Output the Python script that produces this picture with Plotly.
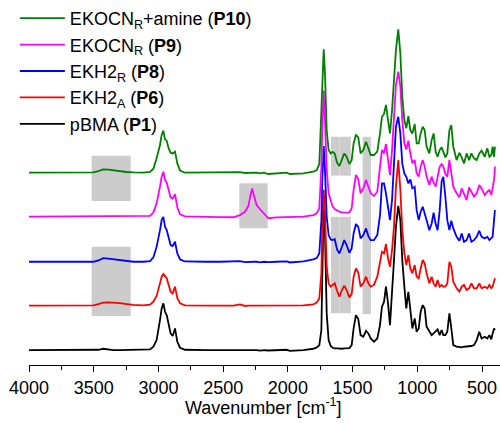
import plotly.graph_objects as go

# ---------------- data ----------------
HIGH_WN = [4000, 3800, 3606, 3554, 3503, 3464, 3426, 3387, 3348, 3297, 3245, 3194, 3117, 3065, 3039,
           3014, 2988, 2975, 2962, 2949, 2936, 2921, 2906, 2890, 2872, 2854, 2833, 2795, 2730, 2627,
           2524, 2421, 2370, 2331, 2305, 2287, 2275, 2262, 2241, 2215, 2184, 2151, 2087, 2009]
FP_WN = [1984, 1880, 1803, 1777, 1757, 1741, 1734, 1723, 1713, 1700, 1685, 1669, 1654, 1638, 1620,
         1602, 1582, 1564, 1546, 1525, 1507, 1492, 1474, 1456, 1438, 1417, 1396, 1378, 1360, 1335,
         1309, 1288, 1273, 1257, 1242, 1226, 1211, 1195, 1180, 1165, 1147, 1131, 1116, 1100, 1085,
         1069, 1054, 1038, 1020, 1005, 989, 974, 958, 943, 928, 907, 889, 874, 858, 843,
         827, 812, 799, 783, 768, 752, 737, 722, 696, 675, 657, 639, 619, 600, 582,
         562, 541, 521, 503, 479, 459, 443, 428, 418, 407, 400]

P1_HIGH = [0, 0, 0, 0, 0, 0.002, 0.009, 0.002, 0, 0, 0, 0, 0, 0.005, 0.023, 0.069, 0.207, 0.287, 0.322,
           0.264, 0.241, 0.184, 0.115, 0.097, 0.149, 0.057, 0.016, 0.002, 0, 0, 0, 0, 0.002, -0.003,
           0, 0, 0, 0, 0, -0.004, 0, -0.003, 0, 0.002]
P1_FP = [-0.005, 0, 0.009, 0.018, 0.034, 0.138, 0.5, 1.05, 0.8, 0.253,
         0.069, 0.028, 0.016, 0.011, 0.011, 0.009, 0.009, 0.011, 0.011, 0.014,
         0.034, 0.149, 0.241, 0.214, 0.103, 0.092, 0.133, 0.115, 0.080, 0.057,
         0.080, 0.172, 0.299, 0.333, 0.437, 0.322, 0.172, 0.368, 0.621, 0.851,
         0.994, 0.897, 0.621, 0.437, 0.287, 0.402, 0.299, 0.149, 0.218, 0.126,
         0.149, 0.264, 0.310, 0.287, 0.161, 0.126, 0.103, 0.115, 0.133, 0.142,
         0.103, 0.138, 0.103, 0.103, 0.126, 0.253, 0.149, 0.034, 0.023, 0.018,
         0.018, 0.023, 0.023, 0.023, 0.028, 0.034, 0.069, 0.126, 0.080, 0.092,
         0.080, 0.103, 0.074, 0.115, 0.149, 0.138]

P6_HIGH = [0, 0, 0, 0, 0.002, 0.011, 0.021, 0.023, 0.023, 0.018, 0.011, 0.005, 0.002, 0.007, 0.028,
           0.067, 0.154, 0.200, 0.218, 0.200, 0.189, 0.143, 0.097, 0.085, 0.131, 0.051, 0.016, 0.002,
           0, 0, 0, 0, 0.009, -0.002, 0, 0, 0, 0, 0, -0.003, 0, -0.002, 0, 0.002]
P6_FP = [-0.002, 0.002, 0.009, 0.021, 0.051, 0.223, 0.545, 0.799, 0.638, 0.269,
         0.154, 0.131, 0.143, 0.154, 0.103, 0.062, 0.108, 0.138, 0.108, 0.057,
         0.080, 0.200, 0.257, 0.228, 0.131, 0.154, 0.200, 0.154, 0.131, 0.143,
         0.200, 0.292, 0.372, 0.361, 0.425, 0.326, 0.269, 0.384, 0.545, 0.821,
         1.005, 0.799, 0.522, 0.361, 0.280, 0.349, 0.257, 0.223, 0.280, 0.200,
         0.189, 0.257, 0.315, 0.292, 0.223, 0.154, 0.200, 0.154, 0.131, 0.177,
         0.131, 0.143, 0.131, 0.131, 0.154, 0.303, 0.269, 0.166, 0.120, 0.097,
         0.131, 0.143, 0.108, 0.120, 0.154, 0.120, 0.120, 0.154, 0.120, 0.131,
         0.120, 0.143, 0.120, 0.131, 0.177, 0.189]

P8_HIGH = [0, 0, 0, 0, 0, 0.009, 0.025, 0.021, 0.016, 0.011, 0.005, 0, 0, 0.005, 0.030, 0.103, 0.218,
           0.287, 0.310, 0.241, 0.218, 0.161, 0.115, 0.108, 0.138, 0.057, 0.016, 0.002, 0, 0, 0, 0,
           0.004, -0.003, 0, 0, 0, 0, 0, -0.004, 0, -0.002, 0, 0.002]
P8_FP = [-0.005, 0.002, 0.016, 0.025, 0.057, 0.287, 0.563, 0.798, 0.632, 0.310,
         0.184, 0.154, 0.149, 0.156, 0.085, 0.057, 0.103, 0.149, 0.115, 0.062,
         0.092, 0.195, 0.260, 0.241, 0.161, 0.184, 0.230, 0.177, 0.149, 0.149,
         0.184, 0.322, 0.540, 0.540, 0.471, 0.368, 0.287, 0.425, 0.701, 0.931,
         1.000, 0.885, 0.678, 0.609, 0.586, 0.540, 0.568, 0.506, 0.517, 0.356,
         0.287, 0.345, 0.379, 0.338, 0.287, 0.218, 0.264, 0.338, 0.260, 0.218,
         0.356, 0.552, 0.586, 0.448, 0.287, 0.218, 0.283, 0.230, 0.172, 0.144,
         0.195, 0.138, 0.149, 0.195, 0.138, 0.149, 0.172, 0.214, 0.172, 0.161,
         0.172, 0.149, 0.161, 0.172, 0.287, 0.356]

P9_HIGH = [0, 0, 0, 0, 0, 0.002, 0.005, 0.002, 0, 0, 0, 0, 0, 0.005, 0.028, 0.092, 0.207, 0.276,
           0.310, 0.253, 0.234, 0.172, 0.133, 0.124, 0.156, 0.064, 0.016, 0.002, 0, 0, -0.003, -0.004,
           0.011, 0.034, 0.074, 0.156, 0.195, 0.143, 0.080, 0.051, 0.018, -0.011, -0.005, -0.005]
P9_FP = [-0.005, 0, 0.011, 0.023, 0.057, 0.345, 0.621, 0.869, 0.667, 0.322,
         0.161, 0.103, 0.069, 0.053, 0.041, 0.034, 0.030, 0.028, 0.028, 0.030,
         0.057, 0.184, 0.287, 0.257, 0.161, 0.195, 0.253, 0.207, 0.161, 0.142,
         0.172, 0.345, 0.460, 0.437, 0.501, 0.391, 0.287, 0.460, 0.701, 0.908,
         1.000, 0.897, 0.667, 0.506, 0.464, 0.524, 0.437, 0.368, 0.391, 0.299,
         0.276, 0.345, 0.391, 0.345, 0.276, 0.218, 0.276, 0.234, 0.207, 0.276,
         0.345, 0.363, 0.345, 0.294, 0.276, 0.391, 0.280, 0.207, 0.161, 0.133,
         0.195, 0.161, 0.115, 0.202, 0.166, 0.138, 0.161, 0.218, 0.195, 0.149,
         0.172, 0.184, 0.149, 0.195, 0.253, 0.345]

P10_HIGH = [0, 0, 0, 0, 0.002, 0.011, 0.023, 0.021, 0.016, 0.011, 0.005, 0.002, 0, 0.005, 0.028,
            0.099, 0.191, 0.260, 0.290, 0.230, 0.221, 0.168, 0.138, 0.133, 0.145, 0.064, 0.014, 0,
            0, 0, 0, 0, 0.004, -0.002, 0, 0, 0, 0, 0, -0.004, 0, -0.009, -0.007, 0]
P10_FP = [-0.009, -0.005, 0.007, 0.018, 0.060, 0.455, 0.685, 0.851, 0.674, 0.294,
          0.156, 0.133, 0.143, 0.133, 0.069, 0.046, 0.092, 0.133, 0.110, 0.060,
          0.087, 0.202, 0.260, 0.244, 0.133, 0.156, 0.214, 0.168, 0.122, 0.122,
          0.145, 0.271, 0.386, 0.405, 0.467, 0.363, 0.271, 0.432, 0.639, 0.846,
          0.989, 0.823, 0.524, 0.363, 0.306, 0.391, 0.294, 0.271, 0.336, 0.202,
          0.202, 0.271, 0.317, 0.294, 0.179, 0.133, 0.225, 0.271, 0.145, 0.110,
          0.156, 0.175, 0.145, 0.106, 0.133, 0.294, 0.329, 0.179, 0.087, 0.138,
          0.106, 0.064, 0.133, 0.087, 0.133, 0.099, 0.087, 0.133, 0.152, 0.110,
          0.168, 0.110, 0.122, 0.179, 0.110, 0.179]

NAMES = ["pBMA (<b>P1</b>)", "EKH2<sub>A</sub> (<b>P6</b>)", "EKH2<sub>R</sub> (<b>P8</b>)",
         "EKOCN<sub>R</sub> (<b>P9</b>)", "EKOCN<sub>R</sub>+amine (<b>P10</b>)"]
SERIES = [P1_HIGH + P1_FP, P6_HIGH + P6_FP, P8_HIGH + P8_FP, P9_HIGH + P9_FP, P10_HIGH + P10_FP]
OFFSETS = [0.103, 0.409, 0.712, 1.023, 1.326]
COLORS = ["#000000", "#ff0000", "#0000ff", "#ff00ff", "#008000"]
WAVENUMBER = HIGH_WN + FP_WN

# highlighted regions: (wn_from, wn_to, y_from, y_to)
BOXES = [(3516, 3214, 1.131, 1.443), (3516, 3214, 0.338, 0.816), (2375, 2156, 0.943, 1.253),
         (1667, 1605, 1.306, 1.574), (1603, 1514, 1.306, 1.574),
         (1667, 1605, 0.357, 1.023), (1603, 1514, 0.357, 1.023), (1422, 1358, 0.352, 1.574)]

XTICKS = [4000, 3500, 3000, 2500, 2000, 1500, 1000, 500]
X_TITLE = "Wavenumber [cm<sup>-1</sup>]"

# ---------------- figure ----------------
FONT = "Liberation Sans, Arial, sans-serif"
fig = go.Figure()
for name, ys, off, col in zip(NAMES, SERIES, OFFSETS, COLORS):
    fig.add_trace(go.Scatter(x=WAVENUMBER, y=[v + off for v in ys], mode="lines", name=name,
                             line=dict(color=col, width=1.8)))

for x0, x1, y0, y1 in BOXES:
    fig.add_shape(type="rect", xref="x", yref="y", x0=x0, x1=x1, y0=y0, y1=y1,
                  fillcolor="#cccccc", line=dict(width=0), layer="below")

# axis title placed as an annotation for precise vertical position
fig.add_annotation(text=X_TITLE, xref="paper", yref="paper", x=0.497, y=0,
                   xanchor="center", yanchor="top", yshift=-28, showarrow=False,
                   font=dict(family=FONT, size=18, color="black"))

fig.update_layout(
    width=500, height=423,
    margin=dict(l=29, r=0, t=0, b=58),
    paper_bgcolor="white", plot_bgcolor="white",
    font=dict(family=FONT, size=18, color="black"),
    showlegend=True,
    legend=dict(x=-0.03, y=1.0, xanchor="left", yanchor="top", traceorder="reversed",
                bgcolor="rgba(0,0,0,0)", font=dict(size=18), tracegroupgap=0, itemwidth=45),
    xaxis=dict(range=[4000, 361], tickvals=XTICKS, ticks="outside", ticklen=6, tickwidth=1,
               tickcolor="black", showline=True, linecolor="black", linewidth=1,
               showgrid=False, zeroline=False,
               minor=dict(dtick=250, ticks="outside", ticklen=3.5, tickcolor="black", showgrid=False)),
    yaxis=dict(range=[0, 2.517], visible=False),
)

fig.write_html("out.html")
